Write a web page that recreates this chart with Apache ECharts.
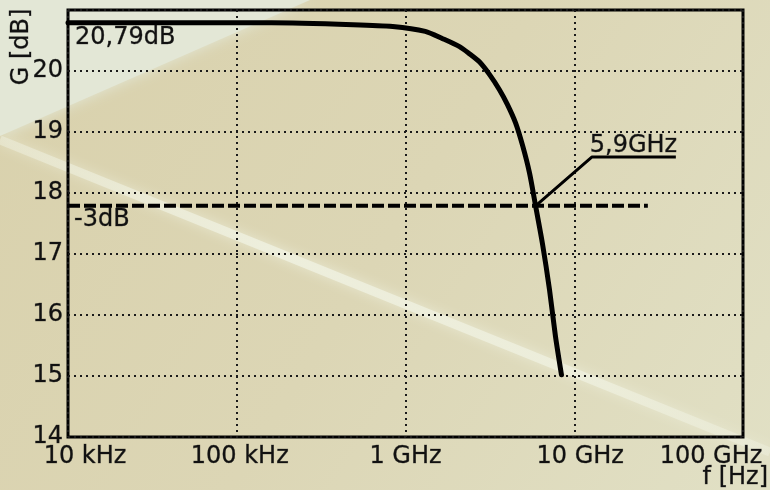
<!DOCTYPE html>
<html>
<head>
<meta charset="utf-8">
<title>Amplifier gain vs frequency</title>
<script src="https://cdn.jsdelivr.net/npm/echarts@6/dist/echarts.min.js"></script>
<style>
  html, body { margin: 0; padding: 0; background: #dcd6b4; }
  #chart { width: 770px; height: 490px; }
</style>
</head>
<body>
<div id="chart"></div>
<script>
// Frequency response of the amplifier (gain in dB against frequency in Hz)
const freqHz = [1e7, 1.6e8, 4.9e8, 8.4e8, 1.31e9, 1.66e9, 2.09e9, 2.40e9, 2.74e9, 3.15e9, 3.61e9, 4.02e9, 4.49e9, 4.94e9, 5.43e9, 5.9e9, 6.48e9, 7.13e9, 7.74e9, 8.40e9];
const gainDb = [20.79, 20.79, 20.76, 20.73, 20.65, 20.53, 20.40, 20.28, 20.15, 19.94, 19.69, 19.45, 19.15, 18.78, 18.33, 17.79, 17.17, 16.42, 15.65, 15.02];

// Pass-band gain, -3 dB drop and the corner frequency
const passbandDb = 20.79;
const dropDb = -3;
const cornerHz = 5.9e9;
const refLineEndHz = 2.73e10;

// Leader line from the corner point to the annotation underline
const leaderHz = [cornerHz, 1.27e10, 4.0e10];
const leaderDb = [passbandDb + dropDb, 18.59, 18.59];

// Axis ticks
const xTickLabels = ['10 kHz', '100 kHz', '1 GHz', '10 GHz', '100 GHz'];
const yTicks = [14, 15, 16, 17, 18, 19, 20];

const FONT = 'DejaVu Sans';
const INK = '#111';
const fmtComma = (v, d) => v.toFixed(d).replace('.', ',');
const textBase = { fontFamily: FONT, fontSize: 24, color: INK, textBorderColor: 'rgba(17,17,17,0.6)', textBorderWidth: 0.5 };

const chart = echarts.init(document.getElementById('chart'), null, { renderer: 'canvas' });

const bandGradient = new echarts.graphic.LinearGradient(0, 0, 1, 0, [
  { offset: 0, color: 'rgba(240,242,226,0.45)' },
  { offset: 0.35, color: 'rgba(240,242,226,0.8)' },
  { offset: 0.75, color: 'rgba(240,242,226,0.7)' },
  { offset: 1, color: 'rgba(240,242,226,0.4)' }
]);

const option = {
  animation: false,
  backgroundColor: new echarts.graphic.LinearGradient(0, 0, 1, 1, [
    { offset: 0, color: '#d9d1ac' },
    { offset: 0.5, color: '#dcd6b5' },
    { offset: 1, color: '#e1e0c5' }
  ]),
  graphic: [
    {
      type: 'polygon', z: -20, silent: true,
      shape: { points: [[0, 0], [310, 0], [0, 136]] },
      style: { fill: '#e3e7d6', shadowBlur: 14, shadowColor: '#e3e7d6' }
    },
    {
      type: 'line', z: -15, silent: true,
      shape: { x1: 0, y1: 140, x2: 770, y2: 452 },
      style: { stroke: bandGradient, lineWidth: 9, shadowBlur: 12, shadowColor: 'rgba(238,240,222,0.9)' }
    },
    {
      type: 'text', x: 22, y: 47, rotation: Math.PI / 2,
      style: { text: 'G [dB]', font: '24px "DejaVu Sans"', fill: INK, stroke: 'rgba(17,17,17,0.6)', lineWidth: 0.5, align: 'center', verticalAlign: 'middle' }
    },
    {
      type: 'text', x: 768, y: 466,
      style: { text: 'f [Hz]', font: '24px "DejaVu Sans"', fill: INK, stroke: 'rgba(17,17,17,0.6)', lineWidth: 0.5, align: 'right', verticalAlign: 'top' }
    }
  ],
  grid: {
    left: 68, right: 27, top: 10, bottom: 53,
    show: true, borderColor: '#000', borderWidth: 3, backgroundColor: 'transparent'
  },
  xAxis: {
    type: 'log', logBase: 10, min: 1e7, max: 1e11,
    axisLine: { show: false },
    axisTick: { show: false },
    splitLine: { show: true, lineStyle: { color: '#1a1a1a', width: 2, type: [2, 4] } },
    axisLabel: Object.assign({}, textBase, {
      margin: 8,
      formatter: function (v) {
        const i = Math.round(Math.log10(v)) - 7;
        return '{p' + i + '|' + xTickLabels[i] + '}';
      },
      rich: {
        p0: Object.assign({}, textBase, { padding: [0, 0, 0, 34] }),
        p1: Object.assign({}, textBase, { padding: [0, 0, 0, 6] }),
        p2: Object.assign({}, textBase),
        p3: Object.assign({}, textBase, { padding: [0, 0, 0, 12] }),
        p4: Object.assign({}, textBase, { padding: [0, 64, 0, 0] })
      }
    })
  },
  yAxis: {
    type: 'value', min: 14, max: 21, interval: 1,
    axisLine: { show: false },
    axisTick: { show: false },
    splitLine: { show: true, lineStyle: { color: '#1a1a1a', width: 2, type: [2, 4] } },
    axisLabel: Object.assign({}, textBase, {
      margin: 5,
      formatter: v => (yTicks.indexOf(v) >= 0 ? String(v) : '')
    })
  },
  series: [
    {
      name: 'G',
      type: 'line',
      smooth: 0.25,
      symbol: 'circle', symbolSize: 0,
      lineStyle: { color: '#000', width: 5, cap: 'round', join: 'round' },
      itemStyle: { color: '#000' },
      z: 5,
      data: freqHz.map((f, i) => i === 0 ? {
        value: [f, gainDb[i]],
        label: Object.assign({}, textBase, {
          show: true, position: [7, 3], align: 'left', verticalAlign: 'top',
          formatter: p => fmtComma(p.value[1], 2) + 'dB'
        })
      } : [f, gainDb[i]])
    },
    {
      name: '-3dB',
      type: 'line',
      symbol: 'circle', symbolSize: 0,
      lineStyle: { color: '#000', width: 4, type: [12, 4] },
      itemStyle: { color: '#000' },
      z: 4,
      data: [
        {
          value: [1e7, passbandDb + dropDb],
          label: Object.assign({}, textBase, {
            show: true, position: [6, 2], align: 'left', verticalAlign: 'top',
            formatter: () => dropDb + 'dB'
          })
        },
        [refLineEndHz, passbandDb + dropDb]
      ]
    },
    {
      name: 'corner',
      type: 'line',
      symbol: 'circle', symbolSize: 0,
      lineStyle: { color: '#000', width: 3 },
      itemStyle: { color: '#000' },
      z: 6,
      data: leaderHz.map((f, i) => i === 1 ? {
        value: [f, leaderDb[i]],
        label: Object.assign({}, textBase, {
          show: true, position: [-2, 1], align: 'left', verticalAlign: 'bottom',
          formatter: () => fmtComma(cornerHz / 1e9, 1) + 'GHz'
        })
      } : [f, leaderDb[i]])
    }
  ]
};

chart.setOption(option);
</script>
</body>
</html>
